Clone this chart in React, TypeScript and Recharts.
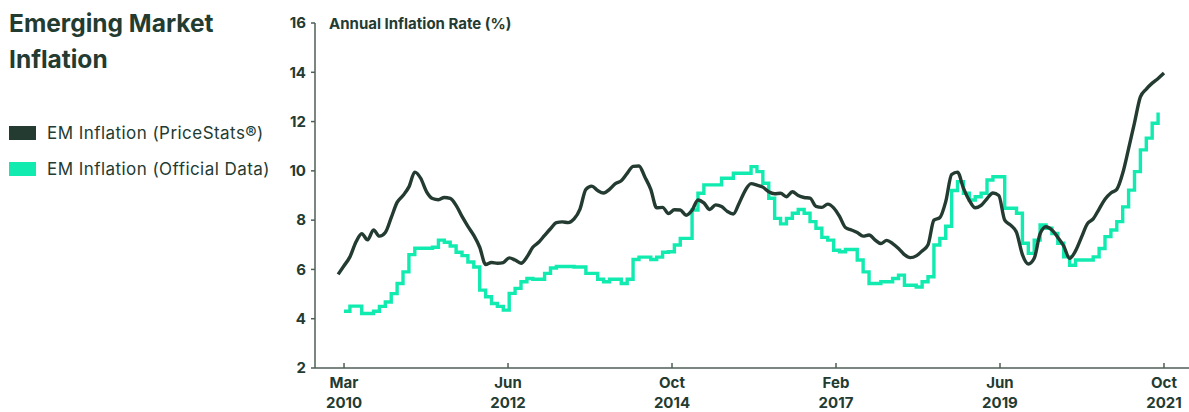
import { LineChart, Line, XAxis, YAxis } from 'recharts';

const DARK = '#233b31';
const TEAL = '#12ebb0';
const AXIS = '#4f5e57';
const FONT = 'Inter, "Noto Sans", sans-serif';

// month index: 0 = Mar 2010 (PriceStats starts one month earlier)
const priceStatsStart = -1;
const priceStats = [
  5.8, 6.15, 6.51, 7.1, 7.45, 7.2, 7.6, 7.35, 7.5, 8.1, 8.72, 9.0, 9.35, 9.95, 9.7, 9.15, 8.88, 8.83, 8.92, 8.88,
  8.6, 8.15, 7.75, 7.38, 6.9, 6.2, 6.28, 6.25, 6.28, 6.47, 6.38, 6.25, 6.5, 6.9, 7.1, 7.38, 7.65, 7.9, 7.93, 7.9,
  8.05, 8.45, 9.25, 9.38, 9.2, 9.1, 9.25, 9.48, 9.6, 9.9, 10.18, 10.2, 9.75, 9.25, 8.5, 8.52, 8.27, 8.42, 8.41, 8.2,
  8.4, 8.82, 8.7, 8.43, 8.62, 8.55, 8.35, 8.25, 8.7, 9.2, 9.48, 9.42, 9.34, 9.15, 9.07, 9.09, 8.95, 9.15, 9.0, 8.92,
  8.89, 8.56, 8.52, 8.65, 8.5, 8.15, 7.7, 7.6, 7.5, 7.35, 7.4, 7.2, 7.05, 7.18, 7.05, 6.85, 6.6, 6.48, 6.55, 6.75,
  7.0, 8.0, 8.1, 8.75, 9.85, 9.95, 9.3, 8.8, 8.5, 8.6, 8.87, 9.1, 9.0, 8.0, 7.8, 7.5, 6.6, 6.22, 6.45, 7.45,
  7.73, 7.6, 7.3, 6.95, 6.45, 6.75, 7.3, 7.85, 8.05, 8.45, 8.85, 9.1, 9.25, 9.9, 10.9, 11.95, 13.0, 13.32, 13.56, 13.75,
  13.97,
];

const officialStart = 0;
const official = [
  4.3, 4.51, 4.51, 4.21, 4.21, 4.3, 4.5, 4.68, 5.02, 5.43, 5.9, 6.6, 6.86, 6.86, 6.86, 6.9, 7.19, 7.1, 6.95, 6.7,
  6.56, 6.3, 6.1, 5.16, 4.89, 4.62, 4.5, 4.35, 5.03, 5.23, 5.5, 5.63, 5.6, 5.6, 5.84, 6.06, 6.12, 6.12, 6.12, 6.1,
  6.1, 5.84, 5.84, 5.6, 5.5, 5.6, 5.6, 5.43, 5.6, 6.4, 6.5, 6.5, 6.4, 6.5, 6.7, 6.72, 6.99, 7.26, 7.26, 8.41,
  9.09, 9.43, 9.43, 9.43, 9.7, 9.7, 9.9, 9.9, 9.9, 10.17, 9.97, 9.5, 8.89, 8.07, 7.85, 8.07, 8.28, 8.43, 8.28, 7.94,
  7.67, 7.3, 7.19, 6.78, 6.72, 6.81, 6.81, 6.38, 5.9, 5.43, 5.43, 5.5, 5.5, 5.63, 5.77, 5.36, 5.36, 5.29, 5.5, 5.7,
  6.99, 7.26, 7.75, 9.2, 9.56, 9.09, 8.82, 8.95, 9.09, 9.63, 9.76, 9.76, 8.48, 8.48, 8.28, 7.06, 6.65, 7.19, 7.8, 7.67,
  7.46, 7.06, 6.51, 6.17, 6.38, 6.38, 6.38, 6.51, 6.85, 7.33, 7.6, 7.94, 8.54, 9.22, 9.97, 10.85, 11.33, 11.93, 12.37,
];

const tickLabels = [
  ['Mar', '2010'],
  ['Jun', '2012'],
  ['Oct', '2014'],
  ['Feb', '2017'],
  ['Jun', '2019'],
  ['Oct', '2021'],
];
const lastTick = 139;
const xTicks = tickLabels.map((_, i) => (i * lastTick) / (tickLabels.length - 1));
const yTicks = [2, 4, 6, 8, 10, 12, 14, 16];

const priceData = priceStats.map((v, i) => ({ m: i + priceStatsStart, v }));
const officialData = official.map((v, i) => ({ m: i + officialStart, v }));

const legend = [
  { label: 'EM Inflation (PriceStats®)', color: DARK },
  { label: 'EM Inflation (Official Data)', color: TEAL },
];

const XTick = (props: any) => {
  const { x, y, index } = props;
  const [mon, yr] = tickLabels[index] || ['', ''];
  return (
    <g>
      <line x1={x} x2={x} y1={y - 5} y2={y} stroke={AXIS} strokeWidth={1.5} />
      <text x={x} y={y + 20} textAnchor="middle" fill={DARK} fontSize={15} fontWeight={700} fontFamily={FONT}>
        {mon}
      </text>
      <text x={x} y={y + 40} textAnchor="middle" fill={DARK} fontSize={15} fontWeight={700} fontFamily={FONT}>
        {yr}
      </text>
    </g>
  );
};

export default function App() {
  return (
    <div style={{ position: 'absolute', left: 0, top: 0, width: 1189, height: 412, background: '#fff', fontFamily: FONT, color: DARK }}>
      <div style={{ position: 'absolute', left: 9, top: 5, fontSize: 24.5, fontWeight: 700, lineHeight: '36px' }}>
        Emerging Market
        <br />
        Inflation
      </div>
      {legend.map((item, i) => (
        <div key={item.label} style={{ position: 'absolute', left: 9, top: 123 + i * 36, height: 20, display: 'flex', alignItems: 'center' }}>
          <div style={{ width: 27, height: 14, background: item.color }} />
          <span style={{ marginLeft: 11, fontSize: 17, letterSpacing: 0.45, whiteSpace: 'nowrap' }}>{item.label}</span>
        </div>
      ))}
      <div style={{ position: 'absolute', left: 329, top: 16, fontSize: 15, fontWeight: 700, lineHeight: '15px', whiteSpace: 'nowrap' }}>
        Annual Inflation Rate (%)
      </div>
      <LineChart width={1189} height={412} margin={{ top: 23, right: 0, bottom: 0, left: 275 }}>
        <XAxis
          dataKey="m"
          type="number"
          domain={[-4.92, 143.24]}
          allowDataOverflow
          ticks={xTicks}
          interval={0}
          height={44}
          tickSize={0}
          tickMargin={0}
          tickLine={false}
          axisLine={{ stroke: AXIS, strokeWidth: 1.5 }}
          tick={<XTick />}
        />
        <YAxis
          type="number"
          domain={[2, 16]}
          ticks={yTicks}
          interval={0}
          width={40}
          tickSize={4}
          tickMargin={5}
          axisLine={{ stroke: AXIS, strokeWidth: 1.5 }}
          tickLine={{ stroke: AXIS, strokeWidth: 1.5 }}
          tick={{ fill: DARK, fontSize: 15, fontWeight: 700, fontFamily: FONT }}
        />
        <Line
          data={officialData}
          dataKey="v"
          type="stepAfter"
          stroke={TEAL}
          strokeWidth={3.4}
          dot={false}
          isAnimationActive={false}
        />
        <Line
          data={priceData}
          dataKey="v"
          type="monotone"
          stroke={DARK}
          strokeWidth={3.4}
          dot={false}
          isAnimationActive={false}
        />
      </LineChart>
    </div>
  );
}
